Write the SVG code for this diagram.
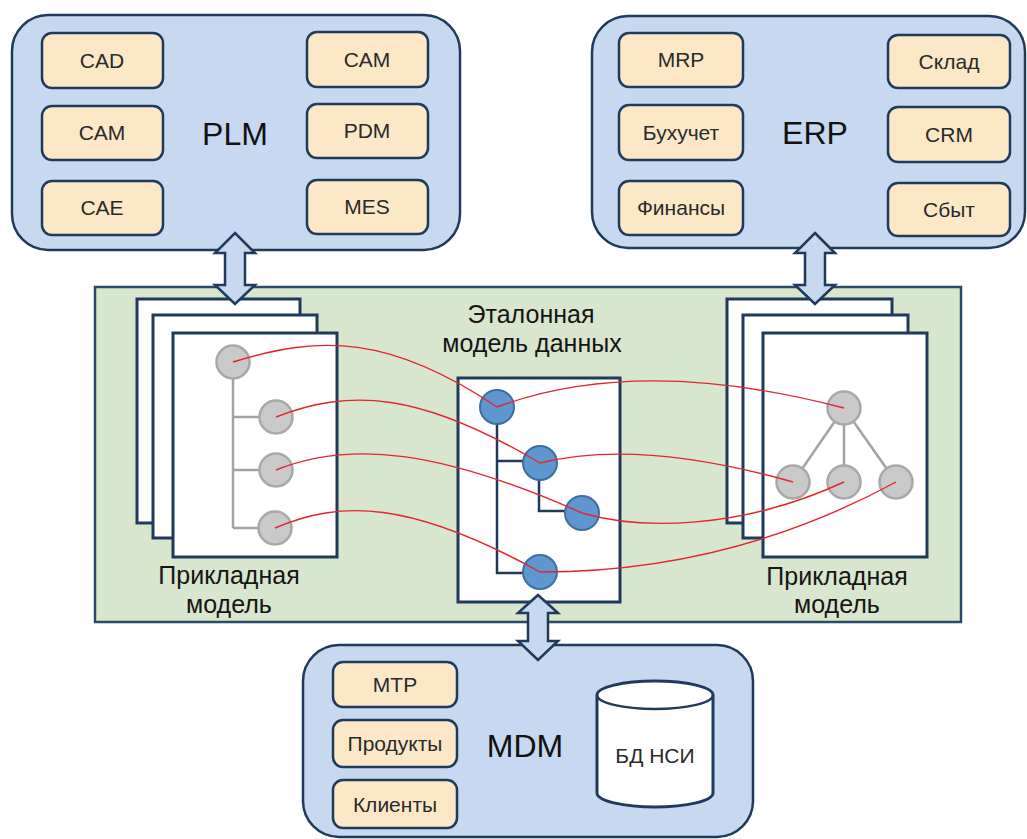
<svg xmlns="http://www.w3.org/2000/svg" width="1027" height="839" viewBox="0 0 1027 839">
  <style>
    .sys { fill: #c6d9f0; stroke: #1f3a5a; stroke-width: 2.5; }
    .mod { fill: #fce8c7; stroke: #1f3a5a; stroke-width: 2.5; }
    .page { fill: #ffffff; stroke: #1f3a5a; stroke-width: 3; }
    .big { font-family: "Liberation Sans", Arial, sans-serif; font-size: 32px; fill: #111; text-anchor: middle; }
    .small { font-family: "Liberation Sans", Arial, sans-serif; font-size: 21px; fill: #2a2a2a; text-anchor: middle; }
    .cap { font-family: "Liberation Sans", Arial, sans-serif; font-size: 25px; fill: #151515; text-anchor: middle; }
    .gtree { stroke: #a3a3a3; stroke-width: 2.5; fill: none; }
    .btree { stroke: #1f3a5a; stroke-width: 2.5; fill: none; }
    .gnode { fill: #c9c9c9; stroke: #a8a8a8; stroke-width: 2.5; }
    .bnode { fill: #5f97d0; stroke: #3f6f9e; stroke-width: 2; }
    .link { stroke: #e3262e; stroke-width: 1.4; fill: none; }
    .arrow { fill: #c6d9f0; stroke: #1f3a5a; stroke-width: 2.5; stroke-linejoin: miter; }
  </style>

  <!-- PLM system -->
  <g id="plm">
    <rect class="sys" x="12" y="15" width="448" height="235" rx="36"/>
    <rect class="mod" x="42" y="33" width="121" height="55" rx="10"/>
    <text class="small" x="102" y="68">CAD</text>
    <rect class="mod" x="42" y="106" width="121" height="54" rx="10"/>
    <text class="small" x="102" y="140">CAM</text>
    <rect class="mod" x="42" y="181" width="121" height="54" rx="10"/>
    <text class="small" x="102" y="215">CAE</text>
    <rect class="mod" x="307" y="32" width="121" height="55" rx="10"/>
    <text class="small" x="367" y="67">CAM</text>
    <rect class="mod" x="307" y="104" width="121" height="54" rx="10"/>
    <text class="small" x="367" y="138">PDM</text>
    <rect class="mod" x="307" y="180" width="121" height="54" rx="10"/>
    <text class="small" x="367" y="214">MES</text>
    <text class="big" x="235" y="145">PLM</text>
  </g>

  <!-- ERP system -->
  <g id="erp">
    <rect class="sys" x="592" y="16" width="433" height="232" rx="36"/>
    <rect class="mod" x="619" y="33" width="124" height="54" rx="10"/>
    <text class="small" x="681" y="67">MRP</text>
    <rect class="mod" x="619" y="105" width="124" height="55" rx="10"/>
    <text class="small" x="681" y="140">Бухучет</text>
    <rect class="mod" x="619" y="181" width="124" height="54" rx="10"/>
    <text class="small" x="681" y="215">Финансы</text>
    <rect class="mod" x="888" y="35" width="122" height="53" rx="10"/>
    <text class="small" x="949" y="69">Склад</text>
    <rect class="mod" x="888" y="107" width="122" height="55" rx="10"/>
    <text class="small" x="949" y="142">CRM</text>
    <rect class="mod" x="888" y="183" width="122" height="53" rx="10"/>
    <text class="small" x="949" y="217">Сбыт</text>
    <text class="big" x="815" y="144">ERP</text>
  </g>

  <!-- MDM system -->
  <g id="mdm">
    <rect class="sys" x="303" y="645" width="450" height="192" rx="36"/>
    <rect class="mod" x="333" y="662" width="124" height="45" rx="10"/>
    <text class="small" x="395" y="692">МТР</text>
    <rect class="mod" x="333" y="720" width="124" height="47" rx="10"/>
    <text class="small" x="395" y="751">Продукты</text>
    <rect class="mod" x="333" y="780" width="124" height="48" rx="10"/>
    <text class="small" x="395" y="812">Клиенты</text>
    <text class="big" x="525" y="757">MDM</text>
    <g id="nsi-db">
      <path class="page" d="M597,695 L597,793 A58,14 0 0 0 713,793 L713,695 A58,14 0 0 0 597,695 Z" stroke-width="2.5"/>
      <path d="M597,695 A58,14 0 0 0 713,695" fill="none" stroke="#1f3a5a" stroke-width="2.5"/>
      <text class="small" x="655" y="763" font-size="23">БД НСИ</text>
    </g>
  </g>

  <!-- Integration layer -->
  <g id="integration">
    <rect x="95" y="287" width="866" height="335" fill="#d8e6cd" stroke="#2a4a66" stroke-width="2.5"/>
  </g>

  <!-- Applied model (PLM side) -->
  <g id="applied-left">
    <rect class="page" x="137" y="299" width="163" height="224"/>
    <rect class="page" x="153" y="315" width="164" height="223"/>
    <rect class="page" x="173" y="333" width="164" height="224"/>
    <path class="gtree" d="M233,362 V528 M233,417 H276 M233,470 H276 M233,528 H275"/>
    <circle class="gnode" cx="233" cy="362" r="16.5"/>
    <circle class="gnode" cx="276" cy="417" r="16.5"/>
    <circle class="gnode" cx="276" cy="470" r="16.5"/>
    <circle class="gnode" cx="275" cy="528" r="16.5"/>
    <text class="cap" x="229" y="584">Прикладная</text>
    <text class="cap" x="229" y="613">модель</text>
  </g>

  <!-- Reference data model -->
  <g id="reference-model">
    <text class="cap" x="531" y="323">Эталонная</text>
    <text class="cap" x="532" y="352">модель данных</text>
    <rect class="page" x="458" y="378" width="162" height="224"/>
    <path class="btree" d="M497,407 V573 H540 M497,461 H540 M539,463 V511 H582"/>
    <circle class="bnode" cx="497" cy="407" r="17"/>
    <circle class="bnode" cx="540" cy="463" r="17"/>
    <circle class="bnode" cx="582" cy="513" r="17"/>
    <circle class="bnode" cx="540" cy="572" r="17"/>
  </g>

  <!-- Applied model (ERP side) -->
  <g id="applied-right">
    <rect class="page" x="727" y="299" width="165" height="224"/>
    <rect class="page" x="743" y="315" width="165" height="223"/>
    <rect class="page" x="763" y="333" width="164" height="224"/>
    <path class="gtree" d="M844,408 L793,482 M844,408 V482 M844,408 L896,482"/>
    <circle class="gnode" cx="844" cy="408" r="16.5"/>
    <circle class="gnode" cx="793" cy="482" r="16.5"/>
    <circle class="gnode" cx="844" cy="482" r="16.5"/>
    <circle class="gnode" cx="896" cy="482" r="16.5"/>
    <text class="cap" x="837" y="585">Прикладная</text>
    <text class="cap" x="837" y="613">модель</text>
  </g>

  <!-- Mappings between model elements -->
  <g id="connectors">
    <path class="link" d="M233,362 C320,335 390,335 497,407"/>
    <path class="link" d="M276,417 C350,388 420,392 540,463"/>
    <path class="link" d="M276,470 C350,440 440,450 582,513"/>
    <path class="link" d="M275,528 C340,500 410,500 540,572"/>
    <path class="link" d="M497,407 C570,380 680,365 844,408"/>
    <path class="link" d="M540,463 C600,448 680,450 793,482"/>
    <path class="link" d="M582,513 C640,530 740,530 844,482"/>
    <path class="link" d="M540,572 C660,572 780,545 896,482"/>
    <!-- exchange arrows -->
    <polygon class="arrow" points="235,233 255,253 245,253 245,285 255,285 235,304 215,285 225,285 225,253 215,253"/>
    <polygon class="arrow" points="815,233 835,253 825,253 825,285 835,285 815,304 795,285 805,285 805,253 795,253"/>
    <polygon class="arrow" points="538,595 558,613 548,613 548,641 558,641 538,660 518,641 528,641 528,613 518,613"/>
  </g>
</svg>
